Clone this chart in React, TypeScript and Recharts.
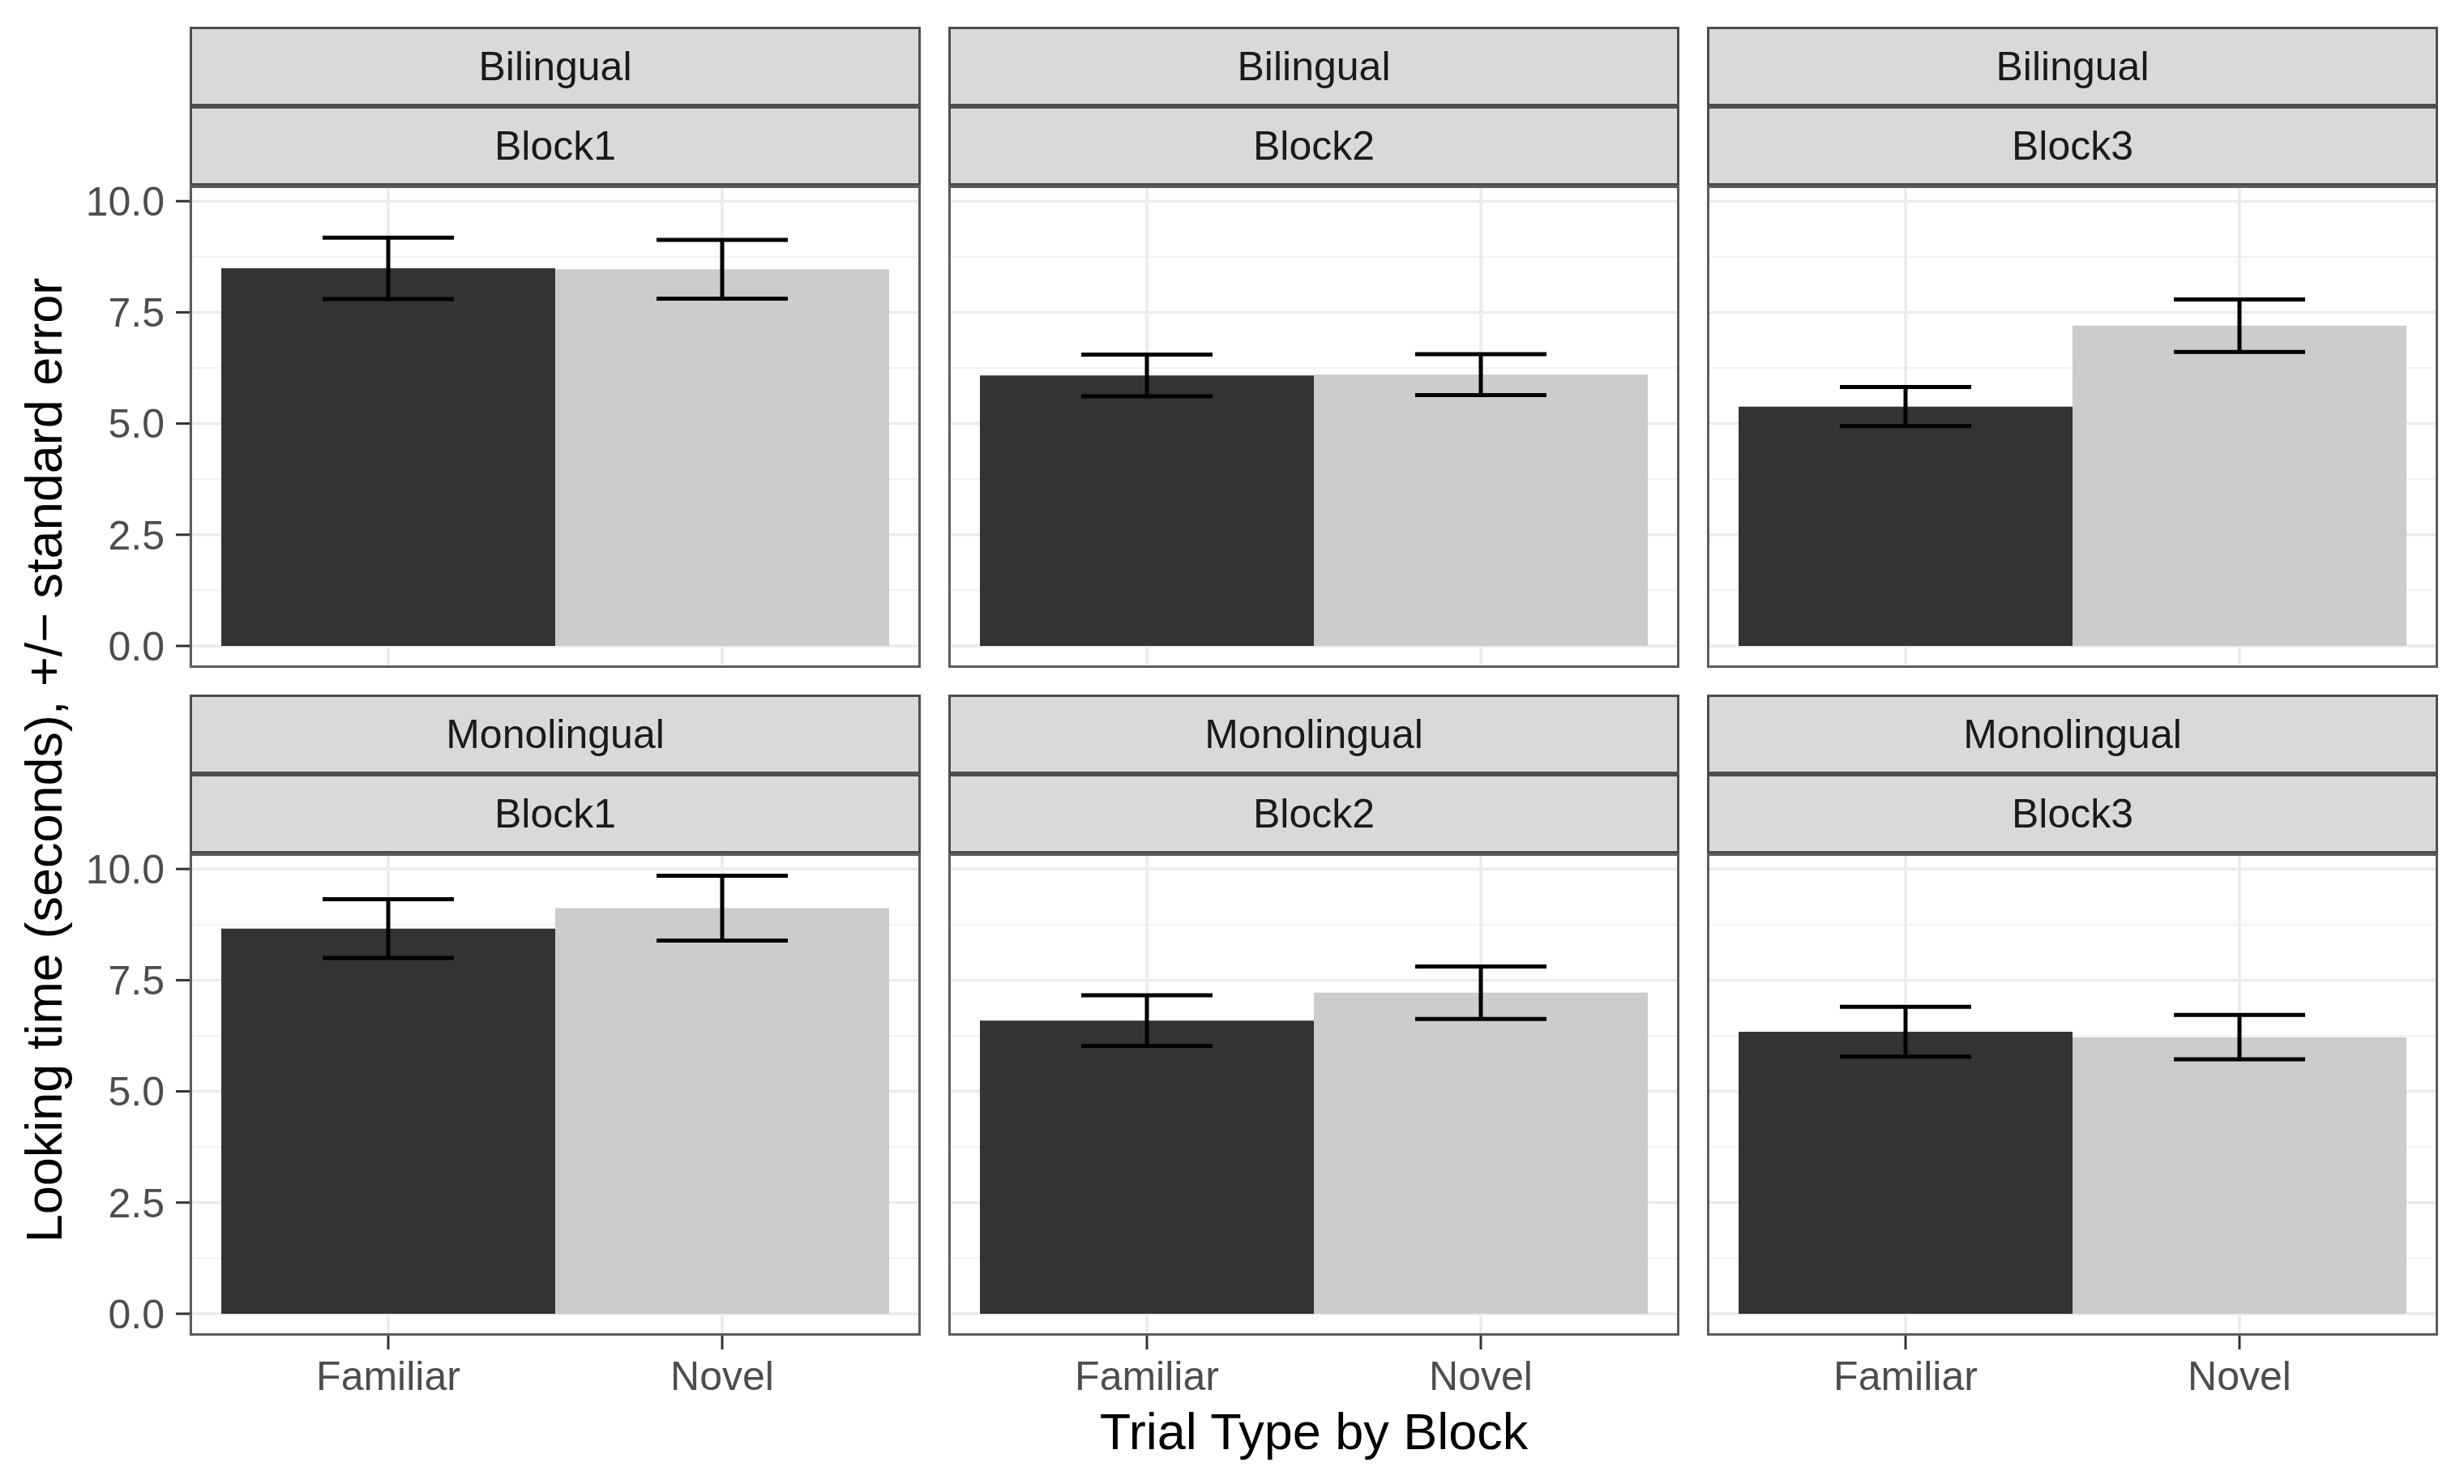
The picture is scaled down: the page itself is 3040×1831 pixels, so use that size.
import { BarChart, Bar, XAxis, YAxis, CartesianGrid, ErrorBar, Cell } from "recharts";

const groups = ["Bilingual", "Monolingual"];
const blocks = ["Block1", "Block2", "Block3"];
const trialTypes = ["Familiar", "Novel"];

// mean looking time (s) per block
const bilingualFamiliar = [8.49, 6.08, 5.38];
const bilingualNovel = [8.47, 6.1, 7.2];
const monolingualFamiliar = [8.66, 6.59, 6.34];
const monolingualNovel = [9.12, 7.22, 6.22];

// standard error per block
const bilingualFamiliarSE = [0.69, 0.47, 0.44];
const bilingualNovelSE = [0.66, 0.46, 0.59];
const monolingualFamiliarSE = [0.66, 0.57, 0.56];
const monolingualNovelSE = [0.73, 0.59, 0.5];

const yTicks = [0, 2.5, 5, 7.5, 10];
const yMinor = [1.25, 3.75, 6.25, 8.75];
const yDomain: [number, number] = [-0.493, 10.35];
const fills = ["#333333", "#cccccc"];

const FONT = "'Liberation Sans', Arial, Helvetica, sans-serif";
const PANEL_W = 902;
const PANEL_H = 595;
const STRIP_H = 98;
const COL_X = [234, 1170, 2106];
const ROW_Y = [33, 857];
const Y_AXIS_W = 234;
const X_AXIS_H = 110;
const PAD = 32; // room for tick labels that poke past the panel

const series: Record<string, number[][]> = {
  Bilingual: [bilingualFamiliar, bilingualNovel],
  Monolingual: [monolingualFamiliar, monolingualNovel],
};
const errors: Record<string, number[][]> = {
  Bilingual: [bilingualFamiliarSE, bilingualNovelSE],
  Monolingual: [monolingualFamiliarSE, monolingualNovelSE],
};

function panelData(group: string, b: number) {
  return trialTypes.map((t, i) => ({
    trial: t,
    mean: series[group][i][b],
    se: errors[group][i][b],
  }));
}

function Strip({ label, top, left }: { label: string; top: number; left: number }) {
  return (
    <div
      style={{
        position: "absolute",
        left,
        top,
        width: PANEL_W,
        height: STRIP_H,
        boxSizing: "border-box",
        background: "#d9d9d9",
        border: "3px solid #4d4d4d",
        display: "flex",
        alignItems: "center",
        justifyContent: "center",
        fontFamily: FONT,
        fontSize: 50,
        color: "#1a1a1a",
      }}
    >
      {label}
    </div>
  );
}

function Panel({ row, col }: { row: number; col: number }) {
  const group = groups[row];
  const px = COL_X[col];
  const stripTop = ROW_Y[row];
  const py = stripTop + 2 * STRIP_H;
  const showY = col === 0;
  const showX = row === 1;
  const chartLeft = showY ? px - Y_AXIS_W : px;
  const bottomPad = showX ? 0 : PAD;
  const w = PANEL_W + (showY ? Y_AXIS_W : 0);
  const h = PAD + PANEL_H + (showX ? X_AXIS_H : 0) + bottomPad;
  const tickStyle = { fill: "#4d4d4d", fontSize: 50, fontFamily: FONT };

  return (
    <>
      <Strip label={group} top={stripTop} left={px} />
      <Strip label={blocks[col]} top={stripTop + STRIP_H} left={px} />
      <div style={{ position: "absolute", left: chartLeft, top: py - PAD }}>
        <BarChart
          width={w}
          height={h}
          data={panelData(group, col)}
          margin={{ top: PAD, right: 0, bottom: bottomPad, left: 0 }}
          barCategoryGap={0}
          barGap={0}
        >
          <CartesianGrid
            horizontalValues={yMinor}
            vertical={false}
            stroke="#f2f2f2"
            strokeWidth={2}
          />
          <CartesianGrid
            horizontalValues={yTicks}
            stroke="#ebebeb"
            strokeWidth={3.5}
          />
          <XAxis
            dataKey="trial"
            type="category"
            hide={!showX}
            height={X_AXIS_H}
            padding={{ left: 39, right: 39 }}
            axisLine={false}
            tickLine={{ stroke: "#333333", strokeWidth: 3 }}
            tickSize={17}
            tickMargin={14}
            tick={tickStyle}
            interval={0}
          />
          <YAxis
            type="number"
            domain={yDomain}
            allowDataOverflow
            ticks={yTicks}
            interval={0}
            hide={!showY}
            width={Y_AXIS_W}
            axisLine={false}
            tickLine={{ stroke: "#333333", strokeWidth: 3 }}
            tickSize={17}
            tickMargin={14}
            tick={tickStyle}
            tickFormatter={(v: number) => v.toFixed(1)}
          />
          <Bar dataKey="mean" isAnimationActive={false}>
            {trialTypes.map((t, i) => (
              <Cell key={t} fill={fills[i]} />
            ))}
            <ErrorBar
              dataKey="se"
              direction="y"
              width={81}
              stroke="#000000"
              strokeWidth={5}
              isAnimationActive={false}
            />
          </Bar>
        </BarChart>
      </div>
      <div
        style={{
          position: "absolute",
          left: px,
          top: py,
          width: PANEL_W,
          height: PANEL_H,
          boxSizing: "border-box",
          border: "3px solid #5c5c5c",
          pointerEvents: "none",
        }}
      />
    </>
  );
}

export default function App() {
  return (
    <div
      style={{
        position: "absolute",
        left: 0,
        top: 0,
        width: 3040,
        height: 1831,
        background: "#ffffff",
        overflow: "hidden",
      }}
    >
      {groups.map((g, r) =>
        blocks.map((b, c) => <Panel key={`${g}-${b}`} row={r} col={c} />)
      )}
      <div
        style={{
          position: "absolute",
          left: 1621,
          top: 1766,
          transform: "translate(-50%, -50%)",
          fontFamily: FONT,
          fontSize: 63,
          lineHeight: 1,
          color: "#000000",
          whiteSpace: "nowrap",
        }}
      >
        Trial Type by Block
      </div>
      <div
        style={{
          position: "absolute",
          left: 54,
          top: 938,
          transform: "translate(-50%, -50%) rotate(-90deg)",
          fontFamily: FONT,
          fontSize: 63,
          lineHeight: 1,
          color: "#000000",
          whiteSpace: "nowrap",
        }}
      >
        Looking time (seconds), +/− standard error
      </div>
    </div>
  );
}
